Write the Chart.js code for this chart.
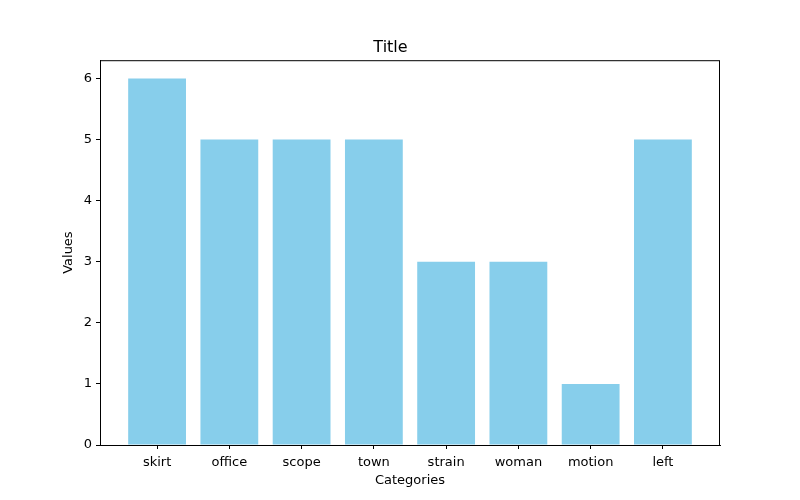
<!DOCTYPE html>
<html>
<head>
<meta charset="utf-8">
<script src="https://cdn.jsdelivr.net/npm/chart.js@4"></script>
<style>
  html, body { margin: 0; padding: 0; background: #fff; }
  #wrap { width: 800px; height: 500px; }
</style>
</head>
<body>
<div id="wrap"><canvas id="chart" width="800" height="500"></canvas></div>
<script>
const categories = ['skirt', 'office', 'scope', 'town', 'strain', 'woman', 'motion', 'left'];
const values = [6, 5, 5, 5, 3, 3, 1, 5];
const yTicks = [0, 1, 2, 3, 4, 5, 6];

const FONT = 'DejaVu Sans';

// draws the full box around the plot, like matplotlib spines
const frame = {
    id: 'frame',
    afterDraw(chart) {
        const { ctx, chartArea: a } = chart;
        ctx.save();
        ctx.strokeStyle = '#000';
        ctx.lineWidth = 1;
        ctx.strokeRect(a.left + 0.5, a.top + 0.5, a.width - 1, a.height);
        ctx.restore();
    }
};

new Chart(document.getElementById('chart'), {
    type: 'bar',
    data: {
        datasets: [{
            data: categories.map((c, i) => ({ x: i, y: values[i] })),
            backgroundColor: '#87CEEB',
            borderWidth: 0,
            barPercentage: 0.8,
            categoryPercentage: 1
        }]
    },
    options: {
        responsive: false,
        animation: false,
        layout: { padding: { top: 38, right: 80, bottom: 12, left: 61 } },
        plugins: {
            legend: { display: false },
            tooltip: { enabled: false },
            title: {
                display: true,
                text: 'Title',
                color: '#000',
                font: { family: FONT, size: 16, weight: 'normal' },
                padding: { top: 0, bottom: 3 }
            }
        },
        scales: {
            x: {
                type: 'linear',
                offset: false,
                min: -0.79,
                max: 7.79,
                afterBuildTicks: s => { s.ticks = categories.map((c, i) => ({ value: i })); },
                afterFit: s => { s.height = 43; },
                ticks: {
                    color: '#000',
                    font: { family: FONT, size: 13 },
                    maxRotation: 0,
                    autoSkip: false,
                    padding: 6,
                    callback: v => categories[v]
                },
                grid: { offset: false, drawOnChartArea: false, drawTicks: true, tickLength: 4, color: '#000' },
                border: { color: '#000' },
                title: {
                    display: true,
                    text: 'Categories',
                    color: '#000',
                    font: { family: FONT, size: 13 },
                    padding: { top: 0, bottom: 0 }
                }
            },
            y: {
                min: 0,
                max: 6.3,
                afterBuildTicks: s => { s.ticks = yTicks.map(v => ({ value: v })); },
                afterFit: s => { s.width = 39; },
                ticks: {
                    color: '#000',
                    font: { family: FONT, size: 13 },
                    padding: 4
                },
                grid: { drawOnChartArea: false, drawTicks: true, tickLength: 4, color: '#000' },
                border: { color: '#000' },
                title: {
                    display: true,
                    text: 'Values',
                    color: '#000',
                    font: { family: FONT, size: 13 },
                    padding: { top: 0, bottom: 0 }
                }
            }
        }
    },
    plugins: [frame]
});
</script>
</body>
</html>
